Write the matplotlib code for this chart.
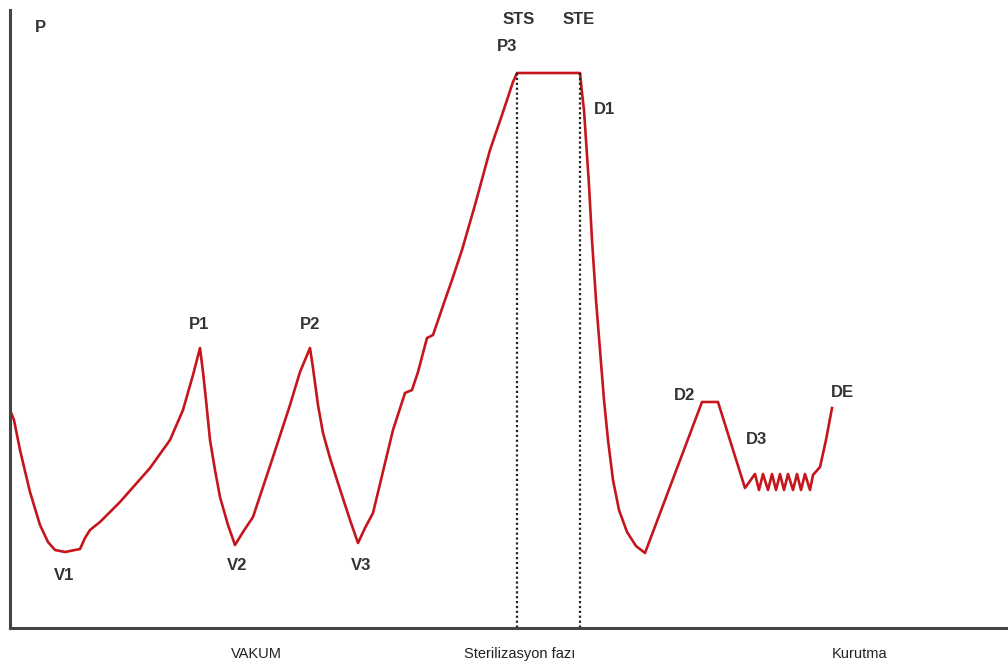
import matplotlib.pyplot as plt

# pressure curve (x: px from left, y: px from top)
curve_x = [10, 14, 20, 30, 40, 48, 55, 65, 75, 80, 85, 90, 100, 120, 150, 170, 183, 193, 200,
           203, 206, 210, 215, 220, 228, 235, 243, 253, 273, 290, 300, 310,
           313, 318, 323, 330, 337, 350, 358, 365, 373, 393, 405, 412, 418, 427, 433, 445, 452, 462, 475, 490, 502, 513, 517,
           580, 582, 584, 586, 589, 592, 596, 600, 604, 608, 613, 619, 627, 636, 645,
           702, 718, 745,
           755, 759, 763, 768, 772, 776, 780, 784, 788, 793, 797, 801, 805, 810,
           813, 820, 826, 832]
curve_y = [410, 420, 450, 492, 525, 542, 550, 552, 550, 549, 538, 530, 522, 502, 468, 440, 410, 375, 348,
           372, 400, 440, 470, 497, 525, 545, 532, 517, 457, 405, 372, 348,
           368, 405, 433, 458, 480, 520, 543, 528, 513, 430, 393, 390, 372, 338, 335, 300, 280, 250, 205, 150, 115, 82, 73,
           73, 93, 110, 140, 185, 240, 300, 350, 400, 440, 480, 510, 532, 546, 553,
           402, 402, 488,
           474, 490, 474, 490, 474, 490, 474, 490, 474, 490, 474, 490, 474, 490,
           475, 467, 440, 408]

labels = ['P', 'STS', 'STE', 'P3', 'D1', 'P1', 'P2', 'V1', 'V2', 'V3', 'D2', 'D3', 'DE']
label_x = [40, 519, 579, 507, 605, 199, 310, 64, 237, 361, 685, 757, 842]
label_y = [28, 20, 20, 47, 110, 325, 325, 576, 566, 566, 396, 440, 393]

phases = ['VAKUM', 'Sterilizasyon fazı', 'Kurutma']
phase_x = [256, 520, 860]

sts_x = 517
ste_x = 580

W, H = 1008, 666
fig = plt.figure(figsize=(W / 100, H / 100), dpi=100)
ax = fig.add_axes([10 / W, 38 / H, 998 / W, 618 / H])
ax.set_xlim(10, 1008)
ax.set_ylim(628, 10)

ax.plot(curve_x, curve_y, color='#c4161c', lw=1.9, solid_joinstyle='round')
for xv in [sts_x, ste_x]:
    ax.plot([xv, xv], [73, 628], color='#222222', lw=1.6, linestyle=(0, (1, 1.2)))

for t, x, y in zip(labels, label_x, label_y):
    ax.text(x, y, t, ha='center', va='center', fontsize=12, fontweight='bold', color='#333333',
            family=['Liberation Sans', 'DejaVu Sans'])

for t, x in zip(phases, phase_x):
    ax.text(x, 654, t, ha='center', va='center', fontsize=10.5, color='#222222',
            family=['Liberation Sans Narrow', 'Liberation Sans', 'DejaVu Sans'])

for s in ['top', 'right']:
    ax.spines[s].set_visible(False)
for s in ['left', 'bottom']:
    ax.spines[s].set_color('#444444')
    ax.spines[s].set_linewidth(2.2)
ax.set_xticks([])
ax.set_yticks([])

fig.savefig('out.png', dpi=100)
